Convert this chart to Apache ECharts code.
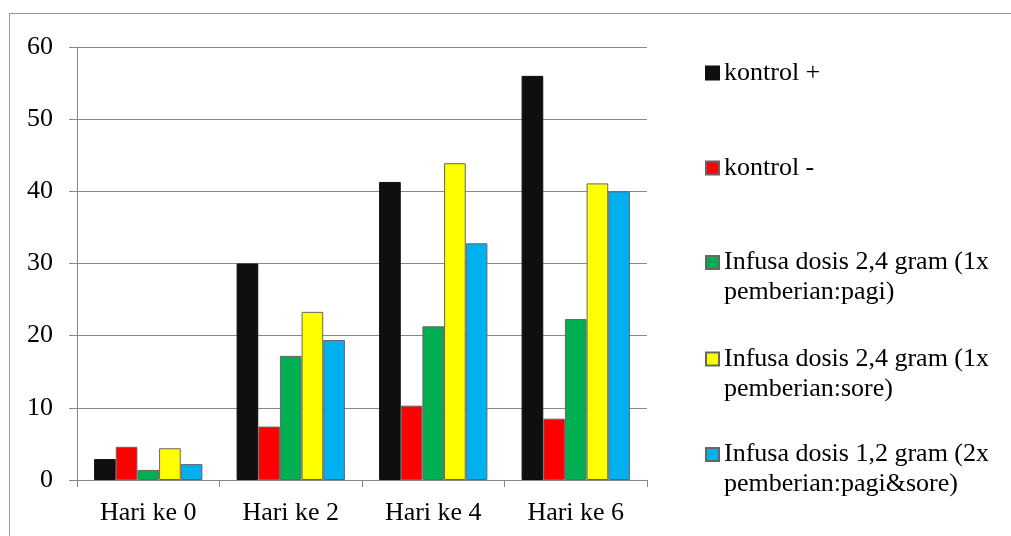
<!doctype html>
<html>
<head>
<meta charset="utf-8">
<title>Hari ke</title>
<script src="https://cdn.jsdelivr.net/npm/echarts@6/dist/echarts.min.js"></script>
<style>
body{margin:0;background:#fff;}
#wrap{position:relative;width:1011px;height:536px;}
#frame{position:absolute;left:9px;top:13px;right:0;bottom:0;border-left:1px solid #999;border-top:1px solid #999;}
#chart{position:absolute;left:0;top:0;width:1011px;height:536px;}
</style>
</head>
<body>
<div id="wrap">
	<div id="frame"></div>
	<div id="chart"></div>
</div>
<script type="text/javascript">
// data
var categories = ['Hari ke 0', 'Hari ke 2', 'Hari ke 4', 'Hari ke 6'];
var seriesNames = [
	'kontrol +',
	'kontrol -',
	'Infusa dosis 2,4 gram (1x pemberian:pagi)',
	'Infusa dosis 2,4 gram (1x pemberian:sore)',
	'Infusa dosis 1,2 gram (2x pemberian:pagi&sore)'
];
var kontrolPlus = [2.9, 30, 41.3, 56];
var kontrolMinus = [4.6, 7.4, 10.3, 8.5];
var pagi = [1.4, 17.2, 21.3, 22.3];
var sore = [4.4, 23.3, 43.9, 41.1];
var pagiSore = [2.2, 19.4, 32.8, 40];
var yTicks = [0, 10, 20, 30, 40, 50, 60];

var colors = ['#0f0f0f', '#ff0000', '#00b050', '#ffff00', '#00b0f0'];
var values = [kontrolPlus, kontrolMinus, pagi, sore, pagiSore];
var font = '"Liberation Serif", "Times New Roman", serif';

var chart = echarts.init(document.getElementById('chart'));

var series = [];
for (var i = 0; i < seriesNames.length; i++) {
	series.push({
		name: seriesNames[i],
		type: 'bar',
		barGap: 0,
		barCategoryGap: '24%',
		itemStyle: {
			color: colors[i],
			borderColor: i == 0 ? '#0f0f0f' : '#666',
			borderWidth: 1
		},
		data: values[i]
	});
}

// one legend per item so the spacing can follow the picture
var legendCenters = [73, 168, 262.5, 359, 454.5];
var legends = [];
for (var j = 0; j < seriesNames.length; j++) {
	var twoLine = seriesNames[j].indexOf(' pemberian') > 0;
	legends.push({
		data: [seriesNames[j]],
		left: 705,
		top: twoLine ? legendCenters[j] - 45 : legendCenters[j] - 15,
		padding: 0,
		icon: 'rect',
		itemWidth: 13,
		itemHeight: 13,
		itemGap: 0,
		selectedMode: false,
		formatter: function (name) {
			// blank first line keeps the icon level with the first text line
			if (name.indexOf(' pemberian') > 0) {
				return ' \n' + name.replace(' pemberian', '\npemberian');
			}
			return name;
		},
		textStyle: {
			fontFamily: font,
			fontSize: 26,
			color: '#000',
			lineHeight: 30
		}
	});
}

var option = {
	animation: false,
	legend: legends,
	grid: {
		left: 77,
		right: 364,
		top: 47,
		bottom: 56
	},
	xAxis: {
		type: 'category',
		data: categories,
		axisLine: {lineStyle: {color: '#888', width: 1}},
		axisTick: {show: true, length: 7, lineStyle: {color: '#888'}},
		axisLabel: {fontFamily: font, fontSize: 26, color: '#000', margin: 20}
	},
	yAxis: {
		type: 'value',
		min: yTicks[0],
		max: yTicks[yTicks.length - 1],
		interval: 10,
		axisLine: {show: true, lineStyle: {color: '#888', width: 1}},
		axisTick: {show: true, length: 8, lineStyle: {color: '#888'}},
		axisLabel: {fontFamily: font, fontSize: 26, color: '#000', margin: 24},
		splitLine: {lineStyle: {color: '#888', width: 1}}
	},
	series: series
};
chart.setOption(option);
</script>
</body>
</html>
